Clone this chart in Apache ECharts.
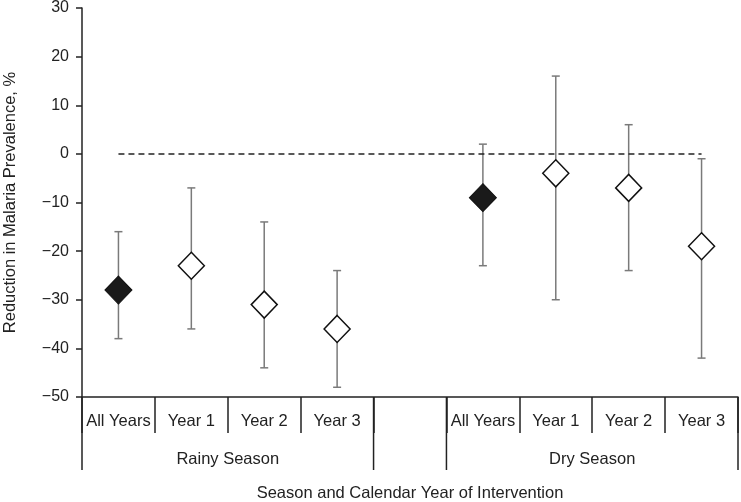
<!DOCTYPE html>
<html>
<head>
<meta charset="utf-8">
<script src="https://cdn.jsdelivr.net/npm/echarts@6/dist/echarts.min.js"></script>
<style>
  html, body { margin: 0; padding: 0; background: #fff; }
  #main { width: 741px; height: 502px; }
</style>
</head>
<body>
<div id="main"></div>
<script>
// categories on the x axis (index 4 is the empty gap between seasons)
var categories = ['All Years', 'Year 1', 'Year 2', 'Year 3', '', 'All Years', 'Year 1', 'Year 2', 'Year 3'];
// point estimates, lower and upper bounds (null = gap)
var estimate = [-28, -23, -31, -36, null, -9, -4, -7, -19];
var lower    = [-38, -36, -44, -48, null, -23, -30, -24, -42];
var upper    = [-16, -7, -14, -24, null, 2, 16, 6, -1];
// filled marker for the pooled "All Years" estimate
var pooled   = [true, false, false, false, false, true, false, false, false];
// season groups under the axis
var groups = [
  { name: 'Rainy Season', from: 0, to: 3 },
  { name: 'Dry Season', from: 5, to: 8 }
];

var FONT = '"Liberation Sans", Arial, sans-serif'
var myChart = echarts.init(document.getElementById('main'))

var barData = []
var filledPts = []
var openPts = []
for (var i = 0; i < categories.length; i++) {
  if (estimate[i] === null) continue
  barData.push([i, lower[i], upper[i]])
  if (pooled[i]) filledPts.push([i, estimate[i]])
  else openPts.push([i, estimate[i]])
}

var groupData = groups.map(function (g) { return [g.from, g.to, g.name] })

// vertical error bars with small caps
function renderBar(params, api) {
  var x = api.value(0)
  var lo = api.coord([x, api.value(1)])
  var hi = api.coord([x, api.value(2)])
  var cap = 4
  var st = { stroke: '#7a7a7a', lineWidth: 1.5 }
  return {
    type: 'group',
    children: [
      { type: 'line', shape: { x1: lo[0], y1: lo[1], x2: hi[0], y2: hi[1] }, style: st },
      { type: 'line', shape: { x1: lo[0] - cap, y1: lo[1], x2: lo[0] + cap, y2: lo[1] }, style: st },
      { type: 'line', shape: { x1: hi[0] - cap, y1: hi[1], x2: hi[0] + cap, y2: hi[1] }, style: st }
    ]
  }
}

// season boxes and labels under the category labels
function renderGroup(params, api) {
  var band = api.size([1, 0])[0]
  var a = api.coord([api.value(0), -50])
  var b = api.coord([api.value(1), -50])
  var left = a[0] - band / 2
  var right = b[0] + band / 2
  var y0 = a[1]
  var st = { stroke: '#222', lineWidth: 1.5 }
  return {
    type: 'group',
    children: [
      { type: 'line', shape: { x1: left, y1: y0, x2: left, y2: y0 + 73 }, style: st },
      { type: 'line', shape: { x1: right, y1: y0, x2: right, y2: y0 + 73 }, style: st },
      {
        type: 'text',
        style: {
          x: (left + right) / 2, y: y0 + 62, text: api.value(2),
          textAlign: 'center', textVerticalAlign: 'middle',
          font: '16.5px ' + FONT, fill: '#222'
        }
      }
    ]
  }
}

var option = {
  animation: false,
  textStyle: { fontFamily: FONT },
  grid: { left: 82, right: 3, top: 8, bottom: 105, outerBoundsMode: 'none', containLabel: false },
  xAxis: {
    type: 'category',
    data: categories,
    boundaryGap: true,
    name: 'Season and Calendar Year of Intervention',
    nameLocation: 'middle',
    nameGap: 88,
    nameTextStyle: { fontSize: 16.5, color: '#222' },
    axisLine: { onZero: false, lineStyle: { color: '#222', width: 1.5 } },
    axisTick: { show: true, interval: 0, length: 36, lineStyle: { color: '#222', width: 1.5 } },
    axisLabel: { interval: 0, fontSize: 16.5, color: '#222', margin: 16 },
    splitLine: { show: false }
  },
  yAxis: {
    type: 'value',
    min: -50,
    max: 30,
    interval: 10,
    name: 'Reduction in Malaria Prevalence, %',
    nameLocation: 'middle',
    nameGap: 63,
    nameTextStyle: { fontSize: 16.5, color: '#222' },
    axisLine: { show: true, lineStyle: { color: '#222', width: 1.5 } },
    axisTick: { show: true, length: 6, lineStyle: { color: '#222', width: 1.5 } },
    axisLabel: {
      fontSize: 16, color: '#222', margin: 13,
      formatter: function (v) { return String(v).replace('-', '\u2212') }
    },
    splitLine: { show: false }
  },
  series: [
    {
      type: 'custom',
      renderItem: renderBar,
      data: barData,
      encode: { x: 0, y: [1, 2] },
      z: 1,
      markLine: {
        silent: true,
        symbol: 'none',
        label: { show: false },
        lineStyle: { color: '#222', type: [6, 4], width: 1.5 },
        data: [[{ coord: [0, 0] }, { coord: [8, 0] }]]
      }
    },
    {
      type: 'custom',
      renderItem: renderGroup,
      data: groupData,
      clip: false,
      silent: true,
      z: 0
    },
    {
      type: 'scatter',
      data: openPts,
      symbol: 'diamond',
      symbolSize: [26, 27],
      itemStyle: { color: '#fff', borderColor: '#111', borderWidth: 1.5, opacity: 1 },
      z: 3
    },
    {
      type: 'scatter',
      data: filledPts,
      symbol: 'diamond',
      symbolSize: [27, 28],
      itemStyle: { color: '#1a1a1a', borderColor: '#111', borderWidth: 1, opacity: 1 },
      z: 3
    }
  ]
}

myChart.setOption(option)
</script>
</body>
</html>
